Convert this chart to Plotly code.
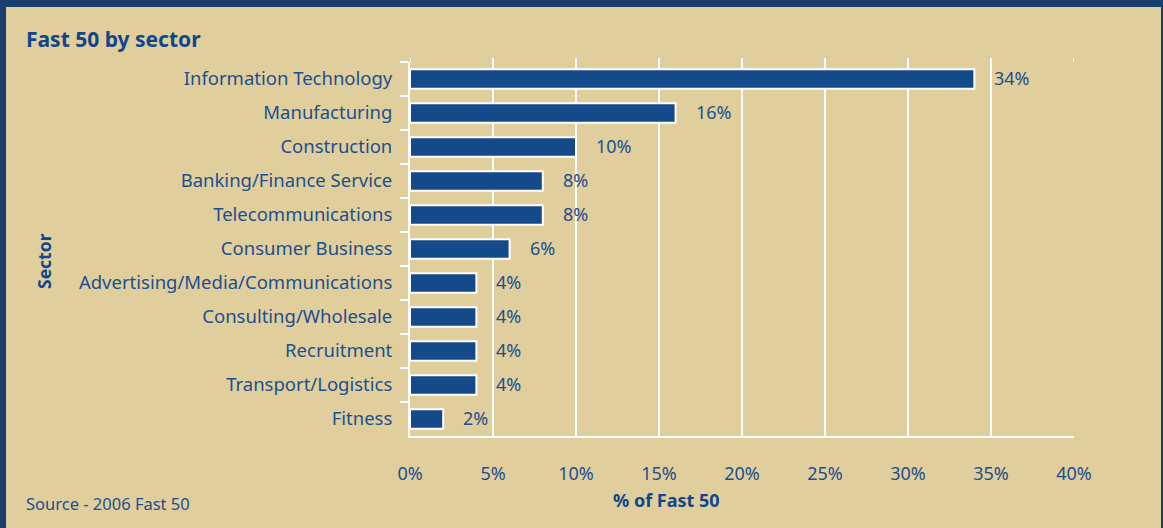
import plotly.graph_objects as go

# Fast 50 companies by sector, share of the list (%)
sectors = [
    "Information Technology",
    "Manufacturing",
    "Construction",
    "Banking/Finance Service",
    "Telecommunications",
    "Consumer Business",
    "Advertising/Media/Communications",
    "Consulting/Wholesale",
    "Recruitment",
    "Transport/Logistics",
    "Fitness",
]
share = [34, 16, 10, 8, 8, 6, 4, 4, 4, 4, 2]
x_ticks = [0, 5, 10, 15, 20, 25, 30, 35, 40]
x_tick_labels = [f"{t}%" for t in x_ticks]

W, H = 1163, 528
ML, MR, MT, MB = 410, 89, 62, 92
PW, PH = W - ML - MR, H - MT - MB

TAN = "#e0ce9d"
NAVY = "#1a3f6c"
BAR = "#154a8a"
TEXT = "#1d4f8e"
HEAD = "#10468c"
FONT = "Noto Sans"


def px_x(p):
    return (p - ML) / PW


def px_y(p):
    return 1 - (p - MT) / PH


fig = go.Figure(
    go.Bar(
        x=share,
        y=sectors,
        orientation="h",
        marker=dict(color=BAR, line=dict(color="white", width=2)),
        hoverinfo="skip",
    )
)

annotations = [
    dict(
        x=v, y=s, xref="x", yref="y", text=f"{v}%", showarrow=False,
        xanchor="left", xshift=18, yshift=1, font=dict(size=18, color=TEXT, family=FONT),
    )
    for s, v in zip(sectors, share)
]
annotations += [
    dict(x=px_x(24), y=px_y(39), xref="paper", yref="paper", text="<b>Fast 50 by sector</b>",
         showarrow=False, xanchor="left", yanchor="middle",
         font=dict(size=21, color=HEAD, family=FONT)),
    dict(x=px_x(44), y=px_y(261), xref="paper", yref="paper", text="<b>Sector</b>",
         showarrow=False, textangle=-90, xanchor="center", yanchor="middle",
         font=dict(size=17.5, color=HEAD, family=FONT)),
    dict(x=px_x(666), y=px_y(500), xref="paper", yref="paper", text="<b>% of Fast 50</b>",
         showarrow=False, xanchor="center", yanchor="middle",
         font=dict(size=18, color=HEAD, family=FONT)),
    dict(x=px_x(24), y=px_y(503), xref="paper", yref="paper", text="Source - 2006 Fast 50",
         showarrow=False, xanchor="left", yanchor="middle",
         font=dict(size=16.5, color=TEXT, family=FONT)),
]

shapes = [
    # frame strips along the top, left and right edges
    dict(type="rect", xref="paper", yref="paper", x0=px_x(0), x1=px_x(W), y0=px_y(0), y1=px_y(7),
         fillcolor=NAVY, line_width=0, layer="below"),
    dict(type="rect", xref="paper", yref="paper", x0=px_x(0), x1=px_x(6), y0=px_y(0), y1=px_y(H),
         fillcolor=NAVY, line_width=0, layer="below"),
    dict(type="rect", xref="paper", yref="paper", x0=px_x(W - 2), x1=px_x(W), y0=px_y(0), y1=px_y(H),
         fillcolor=NAVY, line_width=0, layer="below"),
]
# gridlines run a few pixels past the top of the plotting area
for t in x_ticks:
    shapes.append(dict(type="line", xref="x", yref="paper", x0=t, x1=t, y0=1, y1=px_y(58),
                       line=dict(color="white", width=2), layer="below"))

fig.update_layout(
    width=W, height=H,
    margin=dict(l=ML, r=MR, t=MT, b=MB, pad=0),
    paper_bgcolor=TAN, plot_bgcolor=TAN,
    bargap=0.42,
    showlegend=False,
    font=dict(family=FONT, color=TEXT, size=16),
    annotations=annotations,
    shapes=shapes,
    xaxis=dict(
        range=[0, 40], tickvals=x_ticks, ticktext=x_tick_labels,
        showgrid=True, gridcolor="white", gridwidth=2,
        showline=True, linecolor="white", linewidth=2,
        zeroline=False, ticks="", ticklabelstandoff=20,
        tickfont=dict(size=18, color=TEXT, family=FONT), fixedrange=True,
    ),
    yaxis=dict(
        categoryorder="array", categoryarray=sectors, autorange="reversed",
        showgrid=False, showline=True, linecolor="white", linewidth=2,
        ticks="outside", tickson="boundaries", ticklen=8, tickcolor="white", tickwidth=2,
        ticklabelstandoff=12,
        tickfont=dict(size=18.5, color=TEXT, family=FONT), fixedrange=True,
    ),
)

fig.write_html("out.html")
